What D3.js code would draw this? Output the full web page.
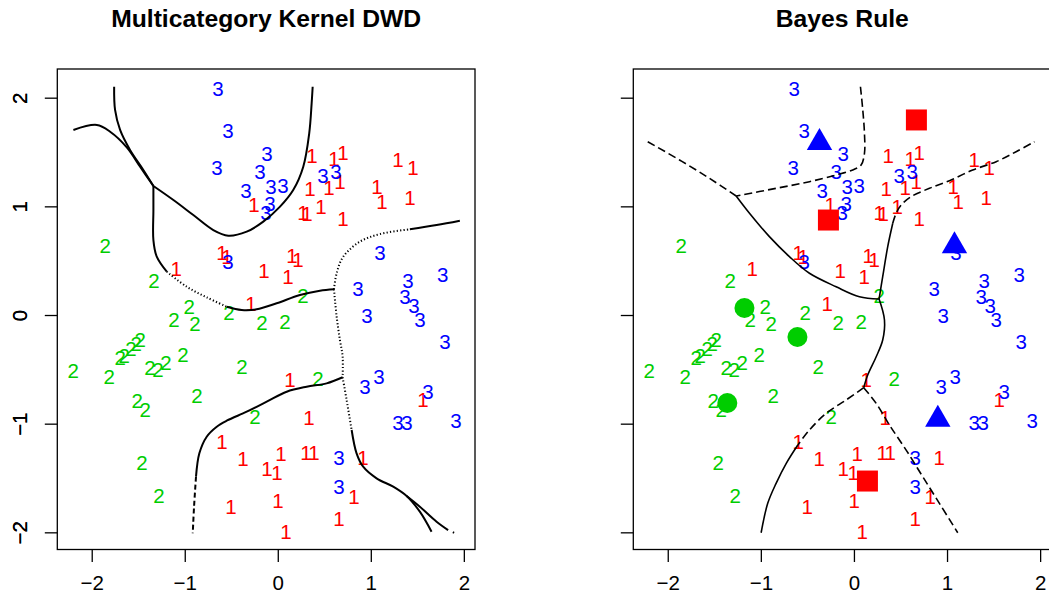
<!DOCTYPE html>
<html>
<head>
<meta charset="utf-8">
<script src="https://cdn.jsdelivr.net/npm/d3@7"></script>
<style>
body{margin:0;background:#fff;}
svg{display:block;font-family:"Liberation Sans",Arial,Helvetica,sans-serif;}
.title{font-weight:bold;font-size:24.7px;}
.tick text{font-size:20.5px;fill:#000;}
.tick line{stroke:#000;stroke-width:1.3;}
.pt{font-size:20.5px;}
</style>
</head>
<body>
<svg id="chart"></svg>
<script>
// observations, class 1 (red), class 2 (green), class 3 (blue)
var class1 = [[-0.256,1.012],[0.368,1.463],[0.604,1.436],[0.701,1.491],[0.346,1.160],[0.550,1.169],
  [0.668,1.224],[1.291,1.427],[1.452,1.353],[1.066,1.178],[1.119,1.040],[1.420,1.077],[0.271,0.939],
  [0.314,0.930],[0.464,0.994],[0.701,0.884],[-0.599,0.571],[-0.546,0.534],[-0.148,0.405],[0.153,0.543],
  [0.217,0.506],[0.110,0.350],[-1.093,0.423],[-0.288,0.101],[0.131,-0.598],[0.335,-0.948],[1.560,-0.782],
  [-0.599,-1.169],[-0.374,-1.325],[0.034,-1.279],[0.303,-1.270],[0.389,-1.270],[-0.116,-1.417],
  [-0.009,-1.454],[0.915,-1.316],[0.818,-1.675],[0.002,-1.712],[-0.503,-1.767],[0.658,-1.878],[0.088,-1.997]];
var class2 = [[-1.856,0.635],[-1.330,0.313],[0.271,0.175],[-0.953,0.074],[-0.524,0.018],[-1.115,-0.046],
  [-0.889,-0.083],[-0.170,-0.074],[0.077,-0.064],[-2.200,-0.515],[-1.813,-0.571],[-1.695,-0.396],
  [-1.652,-0.377],[-1.577,-0.313],[-1.523,-0.267],[-1.480,-0.230],[-1.373,-0.488],[-1.287,-0.506],
  [-1.201,-0.442],[-1.018,-0.368],[-0.385,-0.479],[-1.512,-0.792],[-1.426,-0.874],[-0.868,-0.746],
  [-0.245,-0.939],[0.432,-0.589],[-1.459,-1.362],[-1.276,-1.666]];
var class3 = [[-0.642,2.080],[-0.535,1.693],[-0.116,1.482],[-0.653,1.353],[-0.191,1.316],[-0.342,1.141],
  [-0.073,1.178],[0.056,1.188],[-0.084,1.022],[-0.127,0.939],[0.486,1.280],[0.625,1.316],[-0.535,0.488],
  [1.097,0.571],[1.774,0.368],[1.398,0.313],[0.861,0.239],[1.366,0.166],[1.463,0.083],[1.527,-0.046],
  [0.958,-0.009],[1.796,-0.249],[0.937,-0.663],[1.087,-0.571],[1.613,-0.709],[1.291,-0.994],
  [1.388,-0.994],[1.914,-0.976],[0.658,-1.316],[0.658,-1.583]];

// mixture centres shown on the Bayes panel
var centres1 = [[0.671,1.795],[-0.274,0.874],[0.145,-1.528]];
var centres2 = [[-1.176,0.064],[-0.607,-0.202],[-1.360,-0.810]];
var centres3 = [[-0.370,1.586],[1.080,0.635],[0.901,-0.960]];

// kernel DWD boundary
var dwdBranchA = [[-2.197,1.703],[-1.945,1.749],[-1.802,1.687],[-1.623,1.543],[-1.480,1.365],[-1.337,1.187]];
var dwdBranchB = [[-1.759,2.101],[-1.749,1.887],[-1.695,1.703],[-1.588,1.519],[-1.445,1.335],[-1.337,1.187]];
var dwdUpper = [[-1.337,1.187],[-1.122,1.058],[-0.908,0.920],[-0.693,0.782],[-0.532,0.730],[-0.334,0.767],
  [-0.156,0.859],[0.024,0.997],[0.166,1.150],[0.274,1.365],[0.338,1.672],[0.364,1.948],[0.375,2.101]];
var dwdMiddle = [[-1.337,1.187],[-1.337,0.966],[-1.337,0.690],[-1.301,0.537],[-1.193,0.399],[-0.979,0.260],
  [-0.764,0.163],[-0.549,0.076],[-0.388,0.046],[-0.227,0.052],[-0.012,0.108],[0.238,0.184],[0.453,0.224],[0.604,0.237]];
var dwdRight = [[0.604,0.237],[0.633,0.384],[0.704,0.537],[0.883,0.675],[1.098,0.745],[1.420,0.789],[1.707,0.828],[1.957,0.868]];
var dwdCenter = [[0.604,0.237],[0.633,-0.016],[0.668,-0.230],[0.697,-0.384],[0.697,-0.573]];
var dwdLowerLeft = [[0.697,-0.573],[0.525,-0.629],[0.310,-0.660],[0.096,-0.706],[-0.119,-0.798],[-0.334,-0.890],
  [-0.549,-0.973],[-0.656,-1.028],[-0.764,-1.120],[-0.843,-1.273],[-0.879,-1.488],[-0.900,-1.764],[-0.914,-2.009]];
var dwdLowerRight = [[0.697,-0.573],[0.740,-0.782],[0.794,-1.058],[0.847,-1.273],[0.918,-1.396],[1.062,-1.503],
  [1.241,-1.580],[1.385,-1.666],[1.527,-1.810],[1.653,-1.994]];
var dwdLowerRight2 = [[1.385,-1.666],[1.527,-1.764],[1.707,-1.902],[1.831,-1.979]];
var dwdDot = [[1.882,-1.999],[1.895,-2.005]];

// Bayes boundary
var bayesTop = [[0.070,2.101],[0.095,1.887],[0.113,1.672],[0.113,1.488],[0.077,1.381],[-0.013,1.335],
  [-0.191,1.289],[-0.478,1.227],[-0.836,1.166],[-1.265,1.095]];
var bayesLeft = [[-2.215,1.595],[-1.874,1.427],[-1.552,1.258],[-1.265,1.095]];
var bayesMid = [[-1.265,1.095],[-1.122,0.936],[-0.908,0.721],[-0.693,0.537],[-0.478,0.384],[-0.191,0.260],
  [0.059,0.168],[0.270,0.147]];
var bayesRight = [[0.270,0.147],[0.309,0.353],[0.363,0.629],[0.417,0.844],[0.453,0.936],[0.507,1.012],
  [0.614,1.089],[0.811,1.166],[1.026,1.236],[1.276,1.335],[1.528,1.411],[1.742,1.503],[1.939,1.595]];
var bayesCenter = [[0.270,0.147],[0.328,-0.046],[0.309,-0.230],[0.239,-0.384],[0.148,-0.552],[0.105,-0.669]];
var bayesLowerLeft = [[0.105,-0.669],[-0.084,-0.782],[-0.298,-0.905],[-0.478,-1.058],[-0.603,-1.196],
  [-0.727,-1.365],[-0.836,-1.549],[-0.926,-1.733],[-0.997,-2.004]];
var bayesLowerRight = [[0.105,-0.669],[0.239,-0.813],[0.381,-1.012],[0.561,-1.243],[0.739,-1.488],
  [0.918,-1.733],[1.115,-2.004]];

var tickValues = [-2,-1,0,1,2];
var titles = ["Multicategory Kernel DWD","Bayes Rule"];

var colors = {c1:"#FF0000", c2:"#00CD00", c3:"#0000FF"};
var DOT = "1.2,2.2", DASH = "8,4";

var screen = {width:1049,height:603};
var xDomain = [-2.37,2.12], yDomain = [-2.158,2.264];
var panelTop = 69, panelBottom = 549.5;

var svg = d3.select("#chart")
    .attr("width",screen.width)
    .attr("height",screen.height);
svg.append("rect").attr("width",screen.width).attr("height",screen.height).attr("fill","#fff");

var drawAxes = function(target,xScale,yScale)
{
    var xAxis = d3.axisBottom(xScale)
        .tickValues(tickValues)
        .tickSize(12.5)
        .tickPadding(13.7)
        .tickFormat(d3.format("d"));
    target.append("g")
        .attr("transform","translate(0,"+panelBottom+")")
        .call(xAxis)
        .call(function(g){ g.select(".domain").remove(); });

    var yAxis = d3.axisLeft(yScale)
        .tickValues(tickValues)
        .tickSize(12.5)
        .tickFormat(d3.format("d"));
    target.append("g")
        .attr("transform","translate("+xScale.range()[0]+",0)")
        .call(yAxis)
        .call(function(g){
            g.select(".domain").remove();
            g.selectAll(".tick text")
                .attr("transform","rotate(-90)")
                .attr("x",0)
                .attr("y",-(xScale.range()[0]-27))
                .attr("dy",0)
                .attr("text-anchor","middle");
        });
}

var drawPoints = function(target,xScale,yScale)
{
    var groups = [{pts:class1,label:"1",col:colors.c1},
                  {pts:class2,label:"2",col:colors.c2},
                  {pts:class3,label:"3",col:colors.c3}];
    groups.forEach(function(grp)
    {
        target.append("g")
            .selectAll("text")
            .data(grp.pts)
            .enter()
            .append("text")
            .classed("pt",true)
            .attr("x",function(d){ return xScale(d[0]); })
            .attr("y",function(d){ return yScale(d[1]); })
            .attr("dy","0.355em")
            .attr("text-anchor","middle")
            .attr("fill",grp.col)
            .text(grp.label);
    });
}

var drawCurves = function(target,segments,width,xScale,yScale)
{
    var lineGenerator = d3.line()
        .x(function(d){ return xScale(d[0]); })
        .y(function(d){ return yScale(d[1]); })
        .curve(d3.curveCatmullRom.alpha(0.5));
    target.append("g")
        .selectAll("path")
        .data(segments)
        .enter()
        .append("path")
        .attr("d",function(s){ return lineGenerator(s.pts); })
        .attr("fill","none")
        .attr("stroke","#000")
        .attr("stroke-width",width)
        .attr("stroke-dasharray",function(s){ return s.dash; });
}

var drawCentres = function(target,xScale,yScale)
{
    var sets = [{pts:centres1,type:d3.symbolSquare,size:441,col:colors.c1},
                {pts:centres2,type:d3.symbolCircle,size:314,col:colors.c2},
                {pts:centres3,type:d3.symbolTriangle,size:279,col:colors.c3}];
    sets.forEach(function(s)
    {
        target.append("g")
            .selectAll("path")
            .data(s.pts)
            .enter()
            .append("path")
            .attr("d",d3.symbol().type(s.type).size(s.size))
            .attr("transform",function(d){ return "translate("+xScale(d[0])+","+yScale(d[1])+")"; })
            .attr("fill",s.col);
    });
}

var drawPanel = function(left,right,title,segments,lineWidth,withCentres)
{
    var xScale = d3.scaleLinear().domain(xDomain).range([left,right]);
    var yScale = d3.scaleLinear().domain(yDomain).range([panelBottom,panelTop]);
    var target = svg.append("g");

    drawPoints(target,xScale,yScale);
    drawCurves(target,segments,lineWidth,xScale,yScale);
    if(withCentres) drawCentres(target,xScale,yScale);

    target.append("rect")
        .attr("x",left).attr("y",panelTop)
        .attr("width",right-left).attr("height",panelBottom-panelTop)
        .attr("fill","none").attr("stroke","#000").attr("stroke-width",1.3);

    drawAxes(target,xScale,yScale);

    target.append("text")
        .classed("title",true)
        .attr("x",(left+right)/2)
        .attr("y",27)
        .attr("text-anchor","middle")
        .text(title);
}

var dwdSegments = [
    {pts:dwdBranchA,dash:null},
    {pts:dwdBranchB,dash:null},
    {pts:dwdUpper,dash:null},
    {pts:dwdMiddle.slice(0,5),dash:null},
    {pts:dwdMiddle.slice(4,8),dash:DOT},
    {pts:dwdMiddle.slice(7),dash:null},
    {pts:dwdRight.slice(0,6),dash:DOT},
    {pts:dwdRight.slice(5),dash:null},
    {pts:dwdCenter,dash:DOT},
    {pts:dwdLowerLeft.slice(0,11),dash:null},
    {pts:dwdLowerLeft.slice(10),dash:"5,3"},
    {pts:dwdLowerRight.slice(0,3),dash:DOT},
    {pts:dwdLowerRight.slice(2),dash:null},
    {pts:dwdLowerRight2,dash:null},
    {pts:dwdDot,dash:null}
];

var bayesSegments = [
    {pts:bayesTop,dash:DASH},
    {pts:bayesLeft,dash:DASH},
    {pts:bayesMid,dash:null},
    {pts:bayesRight.slice(0,4),dash:null},
    {pts:bayesRight.slice(3),dash:DASH},
    {pts:bayesCenter,dash:null},
    {pts:bayesLowerLeft.slice(0,5),dash:DASH},
    {pts:bayesLowerLeft.slice(4),dash:null},
    {pts:bayesLowerRight,dash:DASH}
];

drawPanel(57.3,475,titles[0],dwdSegments,2,false);
drawPanel(633.3,1051.3,titles[1],bayesSegments,1.6,true);
</script>
</body>
</html>
